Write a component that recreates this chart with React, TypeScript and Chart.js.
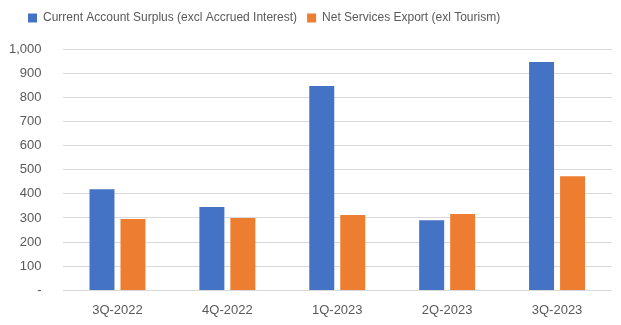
import React, { useEffect, useRef } from "react";
import { Chart, registerables } from "chart.js";

Chart.register(...registerables);

const categories = ["3Q-2022", "4Q-2022", "1Q-2023", "2Q-2023", "3Q-2023"];
const currentAccount = [419, 345, 847, 291, 946];
const netServices = [296, 300, 312, 316, 473];
const seriesNames = [
  "Current Account Surplus (excl Accrued Interest)",
  "Net Services Export (exl Tourism)",
];

const FONT = "'Liberation Sans', Arial, sans-serif";
const TEXT = "#595959";

const legendTweak = {
  id: "legendTweak",
  afterInit(chart: any) {
    const lg = chart.legend;
    if (!lg) return;
    const orig = lg.fit.bind(lg);
    lg.fit = function () {
      orig();
      this.height += 15;
    };
  },
  afterLayout(chart: any) {
    const lg = chart.legend;
    if (lg) {
      lg.left = 18;
    }
  },
};

export default function App() {
  const ref = useRef<HTMLCanvasElement | null>(null);
  useEffect(() => {
    document.body.style.margin = "0";
    const chart = new Chart(ref.current!, {
      type: "bar",
      data: {
        labels: categories,
        datasets: [
          {
            label: seriesNames[0],
            data: currentAccount,
            backgroundColor: "#4472C4",
            categoryPercentage: 0.564,
            barPercentage: 0.806,
          },
          {
            label: seriesNames[1],
            data: netServices,
            backgroundColor: "#ED7D31",
            categoryPercentage: 0.564,
            barPercentage: 0.806,
          },
        ],
      },
      plugins: [legendTweak],
      options: {
        responsive: false,
        animation: false,
        layout: { padding: { left: -12, right: 9, top: 2, bottom: -5 } },
        plugins: {
          tooltip: { enabled: false },
          legend: {
            position: "top",
            align: "start",
            labels: {
              boxWidth: 9,
              boxHeight: 9,
              padding: 10,
              color: TEXT,
              font: { family: FONT, size: 12 },
            },
          },
        },
        scales: {
          x: {
            grid: { display: false, drawTicks: false },
            border: { display: false },
            ticks: { color: TEXT, font: { family: FONT, size: 13 }, padding: 12 },
          },
          y: {
            min: 0,
            max: 1000,
            grid: { color: "#D9D9D9", drawTicks: false, lineWidth: 1 },
            border: { display: false },
            ticks: {
              stepSize: 100,
              color: TEXT,
              padding: 21,
              font: { family: FONT, size: 13 },
              callback: (v: any) => (Number(v) === 0 ? "-" : Number(v).toLocaleString("en-US")),
            },
          },
        },
      },
    });
    return () => chart.destroy();
  }, []);
  return (
    <div style={{ position: "absolute", left: 0, top: 0, width: 621, height: 325 }}>
      <canvas ref={ref} width={621} height={325} />
    </div>
  );
}
